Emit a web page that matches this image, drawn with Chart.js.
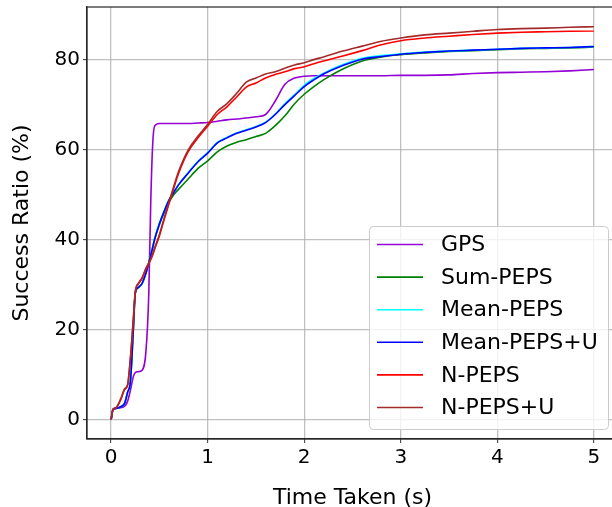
<!DOCTYPE html>
<html>
<head>
<meta charset="utf-8">
<script src="https://cdn.jsdelivr.net/npm/chart.js@4/dist/chart.umd.min.js"></script>
<style>
  html, body { margin: 0; padding: 0; background: #fff; overflow: hidden; }
  #wrap { width: 640px; height: 507px; }
</style>
</head>
<body>
<div id="wrap"><canvas id="successChart" width="640" height="507"></canvas></div>
<script>
const timeTaken = [0, 0.02, 0.05, 0.1, 0.14, 0.17, 0.2, 0.23, 0.25, 0.28,
    0.32, 0.36, 0.39, 0.41, 0.43, 0.45, 0.5, 0.55, 0.6, 0.65,
    0.7, 0.8, 0.9, 1.0, 1.1, 1.2, 1.3, 1.4, 1.5, 1.6,
    1.7, 1.8, 1.9, 2.0, 2.1, 2.2, 2.4, 2.6, 2.8, 3.0,
    3.25, 3.5, 3.75, 4.0, 4.25, 4.5, 4.75, 5.0];

const gps = [0, 2.3, 2.5, 2.6, 2.9, 4.0, 6.5, 9.5, 10.4, 10.6,
    10.9, 15.0, 28.0, 48.0, 61.0, 65.2, 65.8, 65.8, 65.8, 65.8,
    65.8, 65.8, 65.9, 66.0, 66.3, 66.6, 66.8, 67.0, 67.3, 67.8,
    70.8, 74.5, 75.9, 76.3, 76.4, 76.4, 76.4, 76.4, 76.4, 76.5,
    76.5, 76.6, 76.9, 77.1, 77.2, 77.3, 77.5, 77.8];

const sumPeps = [0, 2.2, 2.4, 2.8, 3.6, 6.0, 8.5, 20.0, 28.0, 29.3,
    30.2, 32.5, 34.8, 36.5, 38.2, 40.0, 43.3, 46.0, 48.3, 50.0,
    51.2, 53.5, 55.8, 57.5, 59.5, 60.8, 61.6, 62.2, 62.9, 63.6,
    65.3, 67.5, 70.2, 72.3, 74.0, 75.5, 77.9, 79.7, 80.6, 81.1,
    81.5, 81.8, 82.0, 82.2, 82.4, 82.5, 82.6, 82.8];

const meanPeps = [0, 2.2, 2.4, 2.8, 3.6, 6.0, 8.6, 20.5, 28.0, 29.3,
    30.2, 32.6, 34.9, 36.6, 38.3, 40.1, 43.6, 46.4, 48.9, 50.6,
    52.3, 54.9, 57.4, 59.3, 61.6, 62.7, 63.7, 64.4, 65.1, 66.1,
    67.9, 70.2, 72.2, 74.3, 75.8, 77.0, 78.9, 80.3, 80.9, 81.3,
    81.7, 81.9, 82.1, 82.3, 82.5, 82.6, 82.7, 82.9];

const meanPepsU = [0, 2.2, 2.4, 2.8, 3.6, 6.0, 8.5, 20.0, 28.0, 29.3,
    30.2, 32.5, 34.8, 36.5, 38.2, 40.0, 43.5, 46.3, 48.8, 50.5,
    52.2, 54.8, 57.3, 59.2, 61.5, 62.6, 63.6, 64.3, 65.0, 66.0,
    67.8, 70.0, 72.0, 74.0, 75.5, 76.8, 78.7, 80.1, 80.7, 81.2,
    81.6, 81.9, 82.1, 82.3, 82.5, 82.6, 82.7, 82.9];

const nPeps = [0, 2.2, 2.5, 4.4, 6.6, 7.5, 13.5, 22.0, 28.2, 30.0,
    31.3, 33.4, 34.6, 35.5, 36.5, 37.8, 40.8, 44.5, 48.0, 51.5,
    54.8, 59.6, 62.6, 65.2, 67.8, 69.5, 71.7, 73.9, 74.8, 75.9,
    76.7, 77.3, 78.0, 78.4, 79.1, 79.7, 80.8, 82.0, 83.3, 84.2,
    84.8, 85.2, 85.6, 85.9, 86.1, 86.2, 86.3, 86.4];

const nPepsU = [0, 2.2, 2.6, 4.6, 6.8, 7.7, 13.8, 22.5, 28.4, 30.2,
    31.5, 33.6, 34.8, 35.7, 36.8, 38.1, 41.1, 44.8, 48.4, 51.9,
    55.2, 60.0, 63.0, 65.6, 68.5, 70.2, 72.5, 75.0, 75.9, 76.8,
    77.3, 78.1, 78.8, 79.3, 80.0, 80.6, 81.9, 83.0, 84.1, 84.8,
    85.5, 85.9, 86.3, 86.7, 86.9, 87.0, 87.2, 87.3];

const seriesNames = ['GPS', 'Sum-PEPS', 'Mean-PEPS', 'Mean-PEPS+U', 'N-PEPS', 'N-PEPS+U'];
const seriesValues = [gps, sumPeps, meanPeps, meanPepsU, nPeps, nPepsU];
const seriesColors = ['#9400d3', '#008000', '#00ffff', '#0000ff', '#ff0000', '#a52a2a'];

const xTicks = [0, 1, 2, 3, 4, 5];
const yTicks = [0, 20, 40, 60, 80];

const FONT = "'DejaVu Sans', sans-serif";

// matplotlib-like boxed legend sitting in the lower right of the plot
const boxLegend = {
    id: 'boxLegend',
    afterDraw(chart) {
        const ctx = chart.ctx;
        const x0 = 369, y0 = 226, w = 239, h = 203, r = 4;
        ctx.save();
        ctx.beginPath();
        ctx.roundRect(x0 + 0.5, y0 + 0.5, w, h, r);
        ctx.fillStyle = 'rgba(255,255,255,0.8)';
        ctx.fill();
        ctx.strokeStyle = '#cccccc';
        ctx.lineWidth = 1;
        ctx.stroke();

        ctx.font = '22px ' + FONT;
        ctx.textBaseline = 'middle';
        ctx.fillStyle = '#000';
        chart.data.datasets.forEach((ds, i) => {
            const y = 244.5 + i * 32.6;
            ctx.beginPath();
            ctx.moveTo(377, y);
            ctx.lineTo(423, y);
            ctx.strokeStyle = ds.borderColor;
            ctx.lineWidth = 1.6;
            ctx.stroke();
            ctx.fillText(ds.label, 441, y + 1);
        });
        ctx.restore();
    }
};

// top and right spines
const frame = {
    id: 'frame',
    afterDatasetsDraw(chart) {
        const {ctx, chartArea: a} = chart;
        ctx.save();
        ctx.strokeStyle = '#262626';
        ctx.lineWidth = 1.2;
        ctx.strokeRect(a.left, a.top, a.right - a.left, a.bottom - a.top);
        ctx.restore();
    }
};

function buildDatasets() {
    return seriesNames.map((name, i) => ({
        label: name,
        data: timeTaken.map((t, j) => ({x: t, y: seriesValues[i][j]})),
        borderColor: seriesColors[i],
        backgroundColor: seriesColors[i],
        borderWidth: 1.6,
        pointRadius: 0,
        cubicInterpolationMode: 'monotone',
        order: seriesNames.length - i
    }));
}

function renderChart() {
    const ctx = document.getElementById('successChart').getContext('2d');
    new Chart(ctx, {
        type: 'line',
        data: { datasets: buildDatasets() },
        options: {
            responsive: false,
            animation: false,
            layout: { padding: { top: 7, right: 22, left: 0, bottom: 0 } },
            plugins: {
                legend: { display: false },
                tooltip: { enabled: false }
            },
            scales: {
                x: {
                    type: 'linear',
                    min: -0.25,
                    max: 5.25,
                    afterBuildTicks: s => { s.ticks = xTicks.map(v => ({value: v})); },
                    afterFit: s => { s.height = 68; s.paddingLeft = 0; s.paddingRight = 0; },
                    grid: {
                        color: 'rgba(176,176,176,0.8)',
                        lineWidth: 1.3,
                        tickColor: '#333',
                        tickLength: 4,
                        tickWidth: 1
                    },
                    border: { color: '#262626', width: 1.2 },
                    ticks: {
                        color: '#000',
                        padding: 3,
                        maxRotation: 0,
                        font: { family: FONT, size: 20 },
                        callback: v => String(v)
                    },
                    title: {
                        display: true,
                        text: 'Time Taken (s)',
                        color: '#000',
                        padding: 0,
                        font: { family: FONT, size: 22, lineHeight: 0.8 }
                    }
                },
                y: {
                    min: -4.37,
                    max: 91.7,
                    afterBuildTicks: s => { s.ticks = yTicks.map(v => ({value: v})); },
                    afterFit: s => { s.width = 87; s.paddingTop = 0; s.paddingBottom = 0; },
                    grid: {
                        color: 'rgba(176,176,176,0.8)',
                        lineWidth: 1.3,
                        tickColor: '#333',
                        tickLength: 4,
                        tickWidth: 1
                    },
                    border: { color: '#262626', width: 1.2 },
                    ticks: {
                        color: '#000',
                        padding: 3,
                        font: { family: FONT, size: 20 },
                        callback: v => String(v)
                    },
                    title: {
                        display: true,
                        text: 'Success Ratio (%)',
                        color: '#000',
                        padding: { top: 11, bottom: 0 },
                        font: { family: FONT, size: 22, lineHeight: 1 }
                    }
                }
            }
        },
        plugins: [frame, boxLegend]
    });
}

renderChart();
</script>
</body>
</html>
